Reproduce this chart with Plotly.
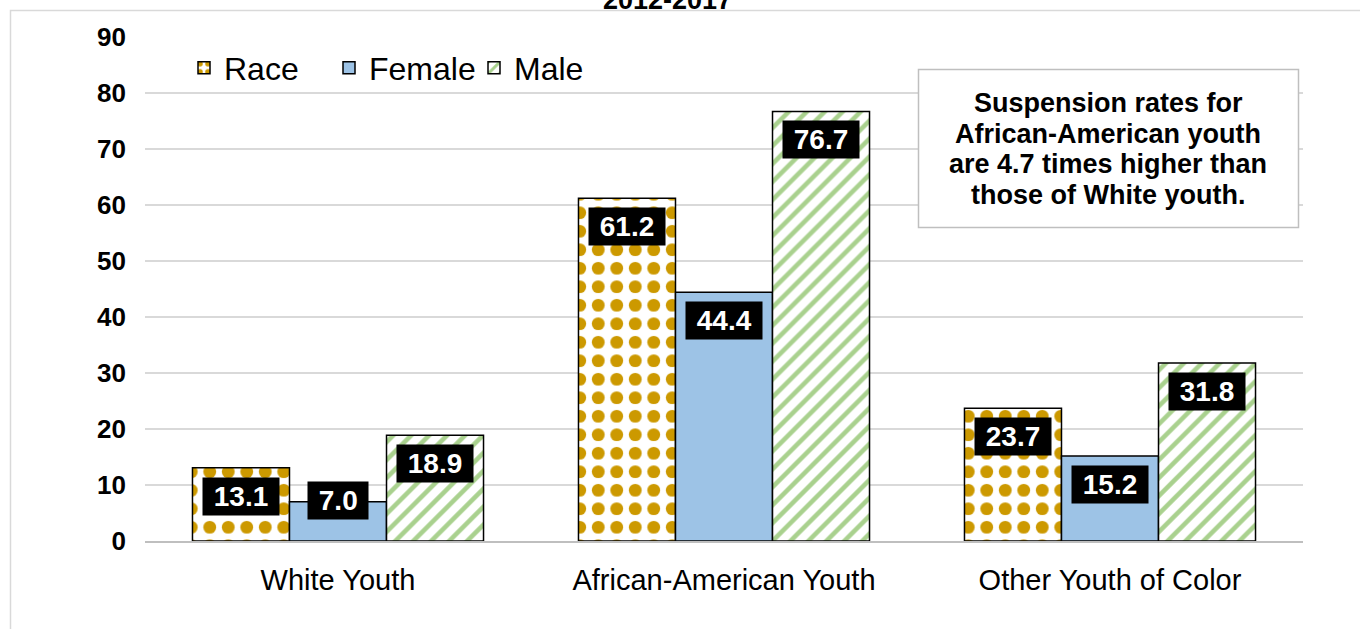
import plotly.graph_objects as go

categories = ["White Youth", "African-American Youth", "Other Youth of Color"]
series_names = ["Race", "Female", "Male"]
race_values = [13.1, 61.2, 23.7]
female_values = [7.0, 44.4, 15.2]
male_values = [18.9, 76.7, 31.8]
y_ticks = [0, 10, 20, 30, 40, 50, 60, 70, 80, 90]
title_text = "2012-2017"
note_lines = ["Suspension rates for", "African-American youth",
              "are 4.7 times higher than", "those of White youth."]

W, H = 1360, 629
ML, MR, MT, MB = 145, 57, 37, 88
PW, PH = W - ML - MR, H - MT - MB
BARGAP = 0.246
FONT = "Arial, Liberation Sans, sans-serif"


def px_x(px):
    return (px - ML) / PW


def px_y(py):
    return (H - MB - py) / PH


fig = go.Figure()
series = [race_values, female_values, male_values]
styles = [
    dict(color="white", pattern=dict(shape=".", fgcolor="#CC9900", bgcolor="white",
                                     size=18.5, solidity=0.38, fillmode="replace",
                                     fgopacity=1)),
    dict(color="#9DC3E6"),
    dict(color="white", pattern=dict(shape="/", fgcolor="#A9D18E", bgcolor="white",
                                     size=12.7, solidity=0.36, fillmode="replace",
                                     fgopacity=1)),
]
for name, vals, st in zip(series_names, series, styles):
    fig.add_trace(go.Bar(
        x=categories, y=vals, name=name,
        marker=dict(**st, line=dict(color="black", width=1.5)),
        hoverinfo="skip",
    ))

# data labels (black boxes)
group_px = PW / len(categories)
bar_px = group_px * (1 - BARGAP) / len(series)
for si, vals in enumerate(series):
    off = (si - (len(series) - 1) / 2) * bar_px
    for ci, v in enumerate(vals):
        fig.add_annotation(
            x=categories[ci], y=max(v, 12.4), xref="x", yref="y",
            xshift=off, yshift=-28.5, yanchor="middle", xanchor="center",
            text="&nbsp;" + f"{v:.1f}" + "&nbsp;", showarrow=False,
            bgcolor="black", borderpad=3,
            font=dict(family=FONT, size=28, color="white", weight="bold"),
        )

# note box
fig.add_shape(type="rect", xref="paper", yref="paper",
              x0=px_x(918.5), x1=px_x(1298.5), y0=px_y(227.5), y1=px_y(69.5),
              line=dict(color="#BFBFBF", width=1.5), fillcolor="white", layer="above")
for i, line in enumerate(note_lines):
    fig.add_annotation(
        x=px_x(1108), y=px_y(103 + 30.7 * i), xref="paper", yref="paper",
        xanchor="center", yanchor="middle", text=line, showarrow=False,
        font=dict(family=FONT, size=27, color="black", weight="bold"),
    )

# cut-off title
fig.add_annotation(
    x=px_x(667), y=px_y(0), xref="paper", yref="paper",
    xanchor="center", yanchor="middle", text=title_text, showarrow=False,
    font=dict(family=FONT, size=27, color="black", weight="bold"),
)

# outer frame
fig.add_shape(type="rect", xref="paper", yref="paper",
              x0=px_x(10.5), x1=px_x(W + 50), y0=px_y(H + 50), y1=px_y(10.5),
              line=dict(color="#D9D9D9", width=1.5), fillcolor="rgba(0,0,0,0)",
              layer="below")

fig.update_layout(
    width=W, height=H,
    margin=dict(l=ML, r=MR, t=MT, b=MB, pad=0),
    paper_bgcolor="white", plot_bgcolor="white",
    barmode="group", bargap=BARGAP, bargroupgap=0,
    font=dict(family=FONT, color="black"),
    showlegend=True,
    legend=dict(orientation="h", x=px_x(184), y=px_y(68), xanchor="left",
                yanchor="middle", bgcolor="rgba(0,0,0,0)",
                entrywidth=100, entrywidthmode="pixels",
                font=dict(family=FONT, size=32, color="black"),
                itemclick=False, itemdoubleclick=False),
    xaxis=dict(showgrid=False, showline=True, linecolor="#BFBFBF", linewidth=1.5,
               ticks="", tickfont=dict(family=FONT, size=29, color="black"),
               ticklabelstandoff=12),
    yaxis=dict(range=[0, 90], tickvals=y_ticks, showgrid=True, gridcolor="#D9D9D9",
               gridwidth=1.5, zeroline=False, showline=False, ticks="",
               tickfont=dict(family=FONT, size=26, color="black", weight="bold"),
               ticklabelstandoff=18),
)

fig.write_html("out.html")
